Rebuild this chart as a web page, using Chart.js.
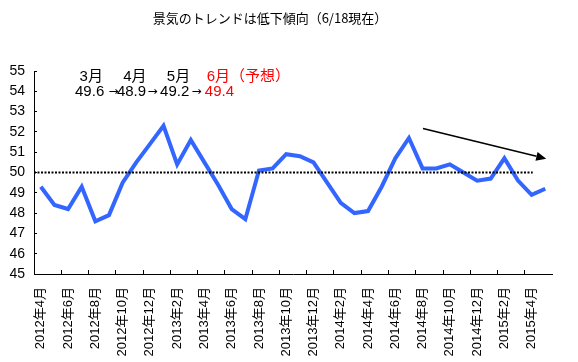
<!DOCTYPE html>
<html>
<head>
<meta charset="utf-8">
<script src="https://cdn.jsdelivr.net/npm/chart.js@4/dist/chart.umd.min.js"></script>
<style>
html,body{margin:0;padding:0;background:#fff;}
#wrap{width:578px;height:362px;position:relative;}
</style>
</head>
<body>
<div id="wrap"><canvas id="c" width="578" height="362"></canvas></div>
<script>
const categories = [
  "2012年4月","2012年5月","2012年6月","2012年7月","2012年8月","2012年9月","2012年10月","2012年11月","2012年12月",
  "2013年1月","2013年2月","2013年3月","2013年4月","2013年5月","2013年6月","2013年7月","2013年8月","2013年9月","2013年10月","2013年11月","2013年12月",
  "2014年1月","2014年2月","2014年3月","2014年4月","2014年5月","2014年6月","2014年7月","2014年8月","2014年9月","2014年10月","2014年11月","2014年12月",
  "2015年1月","2015年2月","2015年3月","2015年4月","2015年5月"
];
const values = [
  49.3,48.4,48.2,49.3,47.6,47.9,49.5,50.5,51.4,
  52.3,50.4,51.6,50.5,49.4,48.2,47.7,50.1,50.2,50.9,50.8,50.5,
  49.5,48.5,48.0,48.1,49.3,50.7,51.7,50.2,50.2,50.4,50.0,49.6,
  49.7,50.7,49.6,48.9,49.2
];
const titleText = "景気のトレンドは低下傾向（6/18現在）";
const refLevel = 50;
const refEndIndex = 36.08;
// annotation texts: [text, xIndex, yValue, align, color, isArrow]
const monthNotes = [
  ["3月", 3.70, 54.72, "center", "#000", false],
  ["4月", 6.90, 54.72, "center", "#000", false],
  ["5月", 10.10, 54.72, "center", "#000", false],
  ["6月（予想）", 12.17, 54.72, "left", "#ff0000", false]
];
const valueNotes = [
  ["49.6", 3.58, 53.98, "center", "#000", false],
  ["→", 5.33, 53.98, "center", "#000", true],
  ["48.9", 6.65, 53.98, "center", "#000", false],
  ["→", 8.20, 53.98, "center", "#000", true],
  ["49.2", 9.82, 53.98, "center", "#000", false],
  ["→", 11.42, 53.98, "center", "#000", true],
  ["49.4", 12.03, 53.98, "left", "#ff0000", false]
];
const trendArrow = {from:[28.03, 52.17], to:[37.07, 50.68]};
const yTicks = [45,46,47,48,49,50,51,52,53,54,55];

const FONT = "'Liberation Sans', 'Noto Sans CJK JP', sans-serif";

const decor = {
  id: 'decor',
  afterDatasetsDraw(chart) {
    const ctx = chart.ctx, xs = chart.scales.x, ys = chart.scales.y;
    ctx.save();
    // reference dotted line
    ctx.strokeStyle = '#000';
    ctx.lineWidth = 2;
    ctx.setLineDash([2, 1.5]);
    ctx.beginPath();
    const y50 = ys.getPixelForValue(refLevel);
    ctx.moveTo(xs.getPixelForValue(-0.5), y50);
    ctx.lineTo(xs.getPixelForValue(refEndIndex), y50);
    ctx.stroke();
    ctx.setLineDash([]);
    // trend arrow
    const x1 = xs.getPixelForValue(trendArrow.from[0]), y1 = ys.getPixelForValue(trendArrow.from[1]);
    const x2 = xs.getPixelForValue(trendArrow.to[0]), y2 = ys.getPixelForValue(trendArrow.to[1]);
    const ang = Math.atan2(y2 - y1, x2 - x1);
    const hl = 10, hw = 4.5;
    ctx.lineWidth = 1.5;
    ctx.beginPath();
    ctx.moveTo(x1, y1);
    ctx.lineTo(x2 - hl * Math.cos(ang), y2 - hl * Math.sin(ang));
    ctx.stroke();
    ctx.fillStyle = '#000';
    ctx.beginPath();
    ctx.moveTo(x2, y2);
    ctx.lineTo(x2 - hl * Math.cos(ang) + hw * Math.sin(ang), y2 - hl * Math.sin(ang) - hw * Math.cos(ang));
    ctx.lineTo(x2 - hl * Math.cos(ang) - hw * Math.sin(ang), y2 - hl * Math.sin(ang) + hw * Math.cos(ang));
    ctx.closePath();
    ctx.fill();
    // annotations
    ctx.textBaseline = 'middle';
    for (const n of monthNotes.concat(valueNotes)) {
      ctx.font = n[5] ? "12px 'DejaVu Sans', sans-serif" : "15px " + FONT;
      ctx.fillStyle = n[4];
      ctx.textAlign = n[3];
      ctx.fillText(n[0], xs.getPixelForValue(n[1]), ys.getPixelForValue(n[2]));
    }
    // title
    ctx.fillStyle = '#000';
    ctx.textAlign = 'center';
    ctx.font = "13px 'Noto Sans CJK JP', sans-serif";
    ctx.fillText(titleText, 270, 18);
    ctx.restore();
  }
};

new Chart(document.getElementById('c'), {
  type: 'line',
  data: {
    labels: categories,
    datasets: [{
      data: values,
      borderColor: '#3366ff',
      borderWidth: 4,
      pointRadius: 0,
      pointHoverRadius: 0,
      tension: 0,
      fill: false
    }]
  },
  options: {
    responsive: false,
    animation: false,
    events: [],
    layout: {padding: {left: 0, right: 10, top: 71, bottom: 0}},
    plugins: {legend: {display: false}, tooltip: {enabled: false}, title: {display: false}},
    scales: {
      x: {
        type: 'category',
        offset: true,
        grid: {
          offset: true,
          drawOnChartArea: false,
          drawTicks: true,
          tickLength: -4,
          color: (c) => (c.index % 2 === 0 ? '#000' : 'rgba(0,0,0,0)'),
          lineWidth: 1
        },
        border: {display: true, color: '#000', width: 1},
        ticks: {
          autoSkip: false,
          minRotation: 90,
          maxRotation: 90,
          padding: 17,
          color: '#000',
          font: {family: FONT, size: 13},
          callback: function(v, i) { return i % 2 === 0 ? categories[i] : ''; }
        },
        afterFit: (s) => { s.height = 88; }
      },
      y: {
        min: 45,
        max: 55,
        afterBuildTicks: (s) => { s.ticks = yTicks.map(v => ({value: v})); },
        grid: {drawOnChartArea: false, drawTicks: true, tickLength: -3, color: '#000', lineWidth: 1},
        border: {display: true, color: '#000', width: 1},
        ticks: {padding: 12, color: '#000', font: {family: FONT, size: 14}},
        afterFit: (s) => { s.width = 34; }
      }
    }
  },
  plugins: [decor]
});
</script>
</body>
</html>
